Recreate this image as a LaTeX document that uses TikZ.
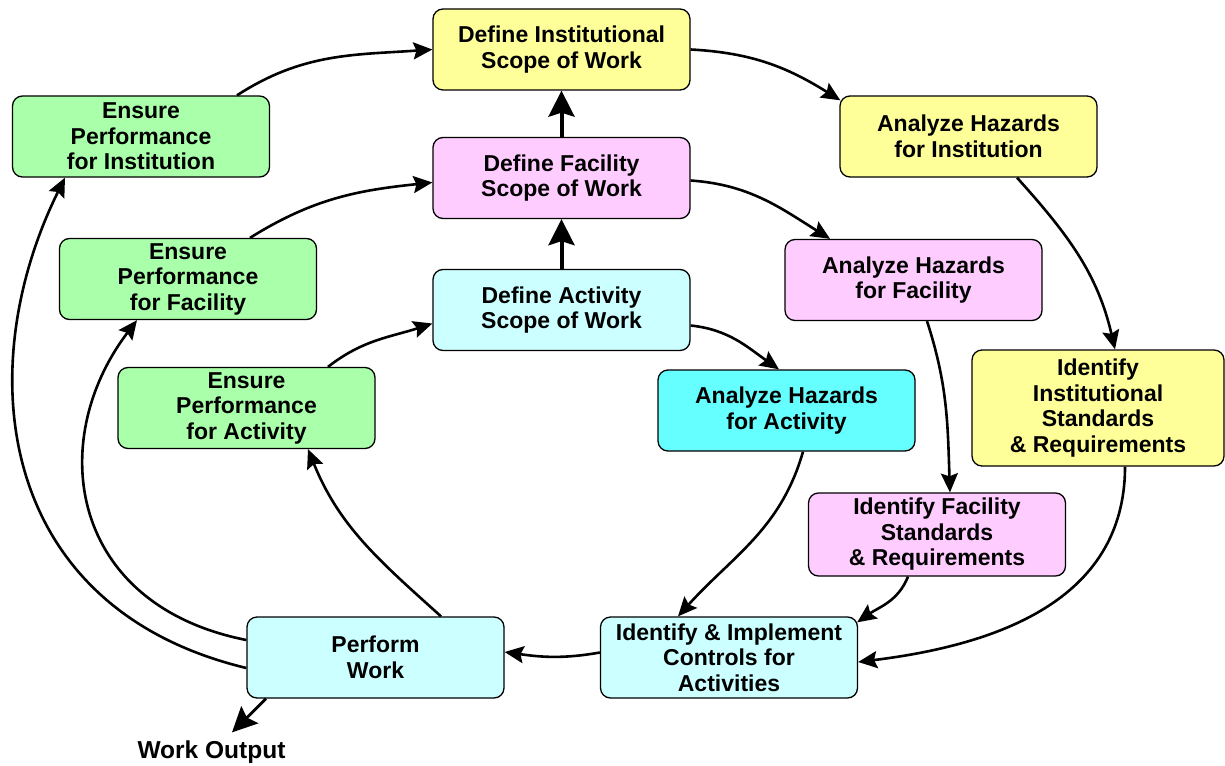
\documentclass[tikz,border=0pt]{standalone}
\usepackage{fontspec}
\setmainfont{Liberation Sans}
\usetikzlibrary{arrows.meta}
\definecolor{instyellow}{HTML}{FFFF99}
\definecolor{facpink}{HTML}{FFCCFF}
\definecolor{actcyan}{HTML}{CCFFFF}
\definecolor{hazcyan}{HTML}{66FFFF}
\definecolor{ensgreen}{HTML}{AAFFAA}
\begin{document}
\begin{tikzpicture}[x=1pt,y=-1pt,
  box/.style={draw=black, line width=1.3pt, rounded corners=10pt,
    minimum width=257pt, minimum height=81pt, inner sep=2pt, align=center,
    font=\fontsize{23}{25.5}\selectfont\bfseries},
  instbox/.style={box, fill=instyellow},
  facbox/.style={box, fill=facpink},
  actbox/.style={box, fill=actcyan},
  hazbox/.style={box, fill=hazcyan},
  ensbox/.style={box, fill=ensgreen},
  flow/.style={line width=2.6pt, -{Stealth[length=19pt,width=17pt,inset=3pt]}},
  rise/.style={line width=4pt, -{Stealth[length=26pt,width=26pt,inset=4pt]}},
  outflow/.style={line width=2.8pt, -{Stealth[length=25pt,width=24pt,inset=4pt]}}
]
\useasboundingbox (0,0) rectangle (1225,765);

% scope-of-work column
\node[instbox] (DIS) at (561.5,49.5) {Define Institutional\\Scope of Work};
\node[facbox]  (DFS) at (561.5,178)  {Define Facility\\Scope of Work};
\node[actbox]  (DAS) at (561.5,310)  {Define Activity\\Scope of Work};

% performance boxes
\node[ensbox] (EPI) at (141,136.5) {Ensure\\Performance\\for Institution};
\node[ensbox] (EPF) at (188,279)   {Ensure\\Performance\\for Facility};
\node[ensbox] (EPA) at (246.5,408) {Ensure\\Performance\\for Activity};

% hazard analysis boxes
\node[instbox] (AHI) at (968.5,136.5) {Analyze Hazards\\for Institution};
\node[facbox]  (AHF) at (913.5,280)   {Analyze Hazards\\for Facility};
\node[hazbox]  (AHA) at (786.5,410.5) {Analyze Hazards\\for Activity};

% standards and controls
\node[instbox, minimum width=252pt, minimum height=116pt] (IIS) at (1098,408)
  {Identify\\Institutional\\Standards\\\& Requirements};
\node[facbox, minimum height=83pt] (IFS) at (937,534.5)
  {Identify Facility\\Standards\\\& Requirements};
\node[actbox] (IIC) at (729,657.5) {Identify \& Implement\\Controls for\\Activities};
\node[actbox] (PW)  at (375.5,657.5) {Perform\\Work};

\node[font=\fontsize{24.5}{27}\selectfont\bfseries, inner sep=0pt] (WO) at (211.5,752) {Work Output};

% scope refinement
\draw[rise] (DAS.north) -- (DFS.south);
\draw[rise] (DFS.north) -- (DIS.south);

% institution loop
\draw[flow] ([xshift=96pt]EPI.north) to[out=33,in=184] (DIS.west);
\draw[flow] (DIS.east) to[out=-3,in=148] ([xshift=1pt,yshift=-5pt]AHI.north west);
\draw[flow] ([xshift=48.5pt]AHI.south) to[out=-48,in=103] ([xshift=17pt]IIS.north);
\draw[flow] ([xshift=27pt]IIS.south) to[out=-90,in=7,looseness=1.05] ([yshift=-4.5pt]IIC.east);

% facility loop
\draw[flow] ([yshift=-2.5pt]DFS.east) to[out=-4,in=148] ([xshift=-83.5pt]AHF.north);
\draw[flow] ([xshift=13.5pt]AHF.south) to[out=-72,in=92] ([xshift=13pt]IFS.north);
\draw[flow] ([xshift=-29pt]IFS.south) to[out=-112,in=35] ([xshift=-1pt,yshift=-6pt]IIC.north east);

% activity loop
\draw[flow] ([yshift=-15.5pt]DAS.east) to[out=-6,in=145] ([xshift=-7.5pt]AHA.north);
\draw[flow] ([xshift=16.5pt]AHA.south) to[out=-106,in=48] ([xshift=-51pt]IIC.north);
\draw[flow] ([yshift=5pt]IIC.west) to[out=190,in=-8] ([yshift=5.5pt]PW.east);

% feedback from work performed
\draw[flow] ([xshift=65.5pt]PW.north) to[out=138,in=-68] ([xshift=61.5pt]EPA.south);
\draw[flow] ([yshift=17.5pt]PW.west) .. controls +(-177,-35) and +(-92,121) .. ([xshift=-51pt]EPF.south);
\draw[flow] ([yshift=-10.5pt]PW.west) .. controls +(-250,-60) and +(-95,192) .. ([xshift=-76pt]EPI.south);
\draw[flow] ([xshift=62pt]EPF.north) to[out=32,in=186] ([yshift=-4.5pt]DFS.west);
\draw[flow] ([xshift=81.5pt]EPA.north) to[out=38,in=198] ([yshift=-13.5pt]DAS.west);

% output
\draw[outflow] ([xshift=-109.5pt]PW.south) -- ([xshift=20.5pt,yshift=8pt]WO.north);
\end{tikzpicture}
\end{document}
